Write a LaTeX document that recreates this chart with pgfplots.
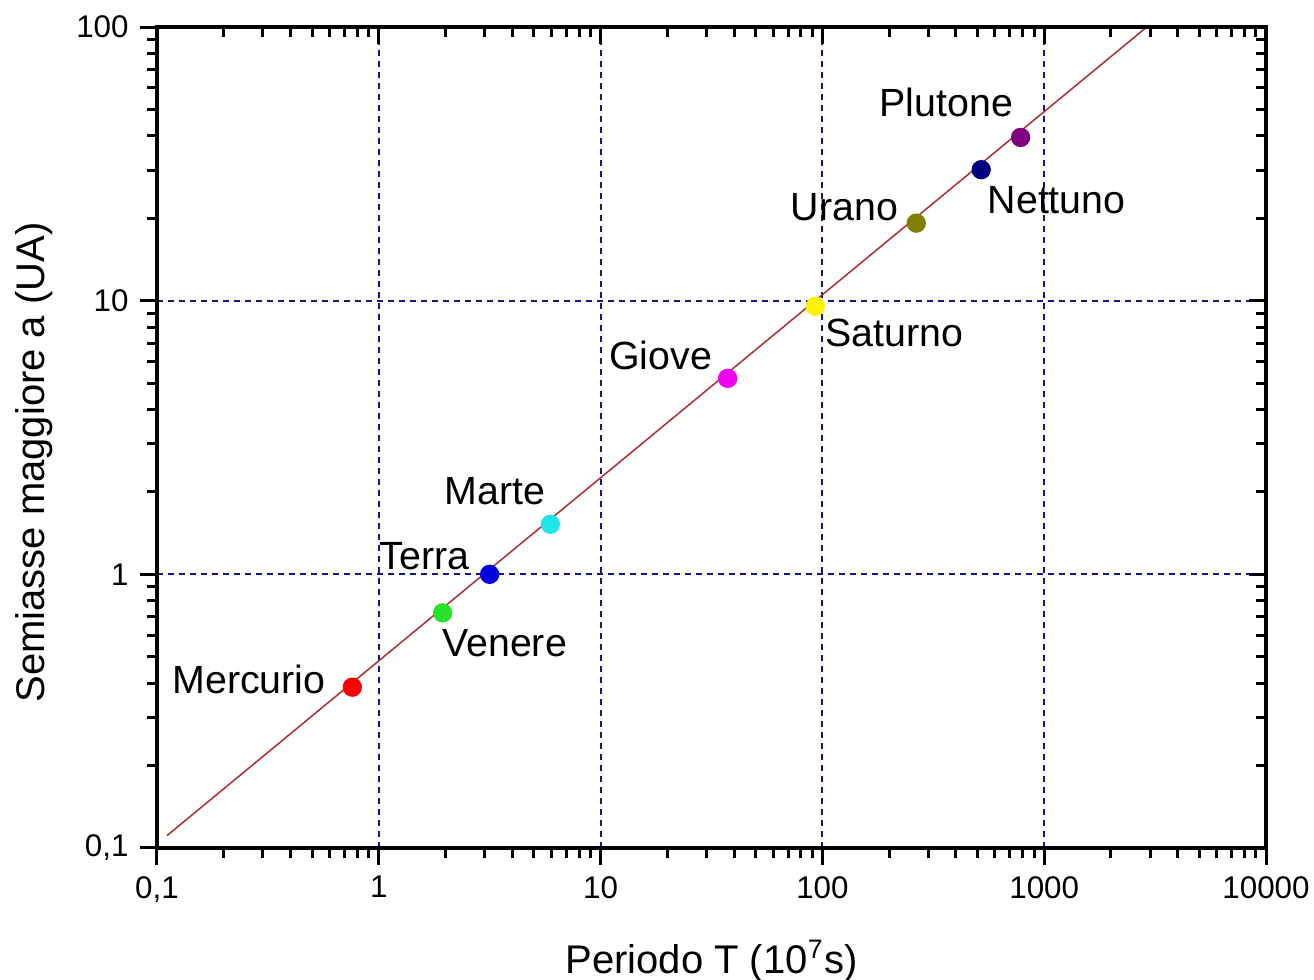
\documentclass[border=0pt]{standalone}
\usepackage{pgfplots}
\pgfplotsset{compat=1.18}
\usepackage{fontspec}
\setmainfont{Liberation Sans}
\definecolor{gridblue}{RGB}{20,20,140}
\definecolor{fitred}{RGB}{175,45,45}
\definecolor{cMer}{RGB}{255,0,0}
\definecolor{cVen}{RGB}{40,225,40}
\definecolor{cTer}{RGB}{0,0,225}
\definecolor{cMar}{RGB}{30,230,230}
\definecolor{cGio}{RGB}{240,0,240}
\definecolor{cSat}{RGB}{255,240,0}
\definecolor{cUra}{RGB}{128,128,0}
\definecolor{cNet}{RGB}{0,0,128}
\definecolor{cPlu}{RGB}{128,0,128}
\begin{document}
\begin{tikzpicture}
\begin{axis}[
    width=332.7pt, height=246.3pt, scale only axis,
    xmode=log, ymode=log,
    xmin=0.1, xmax=10000, ymin=0.1, ymax=100,
    xtick={0.1,1,10,100,1000,10000},
    ytick={0.1,1,10,100},
    axis line style={line width=1pt},
    every tick/.style={black, line width=0.9pt},
    major tick length=5pt, minor tick length=3pt,
    clip=false,
    xtick pos=left, ytick pos=left,
    tick align=outside,
    xticklabels={{0,1},1,10,100,1000,10000},
    yticklabels={{0,1},1,10,100},
    ticklabel style={font=\fontsize{9.4}{11}\selectfont},
    grid=major,
    major grid style={gridblue, line width=0.6pt, dash pattern=on 1.9pt off 1.4pt},
    xlabel={Periodo T (10\textsuperscript{7}s)},
    ylabel={Semiasse maggiore a (UA)},
    label style={font=\fontsize{12}{14}\selectfont},
    xlabel style={at={(axis description cs:0.5,-0.1523)}, anchor=base},
    ylabel style={at={(axis description cs:-0.1010,0.4696)}, anchor=base},
  ]
  \addplot[fitred, line width=0.45pt] coordinates {(0.111,0.111) (2900,100)};
  \addplot[only marks, mark=*, mark size=2.7pt, color=cMer] coordinates {(0.76,0.387)};
  \addplot[only marks, mark=*, mark size=2.7pt, color=cVen] coordinates {(1.94,0.723)};
  \addplot[only marks, mark=*, mark size=2.7pt, color=cTer] coordinates {(3.16,1.0)};
  \addplot[only marks, mark=*, mark size=2.7pt, color=cMar] coordinates {(5.94,1.524)};
  \addplot[only marks, mark=*, mark size=2.7pt, color=cGio] coordinates {(37.4,5.20)};
  \addplot[only marks, mark=*, mark size=2.7pt, color=cSat] coordinates {(92.9,9.54)};
  \addplot[only marks, mark=*, mark size=2.7pt, color=cUra] coordinates {(265,19.2)};
  \addplot[only marks, mark=*, mark size=2.7pt, color=cNet] coordinates {(520,30.1)};
  \addplot[only marks, mark=*, mark size=2.7pt, color=cPlu] coordinates {(783,39.5)};
  \begin{scope}[every node/.style={anchor=base, inner sep=0pt, font=\fontsize{11.8}{13}\selectfont}]
  \node at (axis cs:0.2597,0.3656) {Mercurio};
  \node at (axis cs:3.694,0.4991) {Venere};
  \node at (axis cs:1.603,1.038) {Terra};
  \node at (axis cs:3.331,1.793) {Marte};
  \node at (axis cs:18.64,5.581) {Giove};
  \node at (axis cs:211.0,6.774) {Saturno};
  \node at (axis cs:125.7,19.71) {Urano};
  \node at (axis cs:1138,20.91) {Nettuno};
  \node at (axis cs:361.9,46.91) {Plutone};
  \end{scope}
\end{axis}
\begin{axis}[
    width=332.7pt, height=246.3pt, scale only axis,
    xmode=log, ymode=log,
    xmin=0.1, xmax=10000, ymin=0.1, ymax=100,
    xtick={0.1,1,10,100,1000,10000},
    ytick={0.1,1,10,100},
    axis line style={line width=1pt},
    every tick/.style={black, line width=0.9pt},
    major tick length=5pt, minor tick length=3pt,
    xtick pos=right, ytick pos=right,
    tick align=inside,
    xticklabels={}, yticklabels={},
  ]
\end{axis}
\pgfresetboundingbox
\path ([shift={(-47.1pt,-39.6pt)}]current axis.south west) rectangle ([shift={(14.4pt,8.1pt)}]current axis.north east);
\end{tikzpicture}
\end{document}
